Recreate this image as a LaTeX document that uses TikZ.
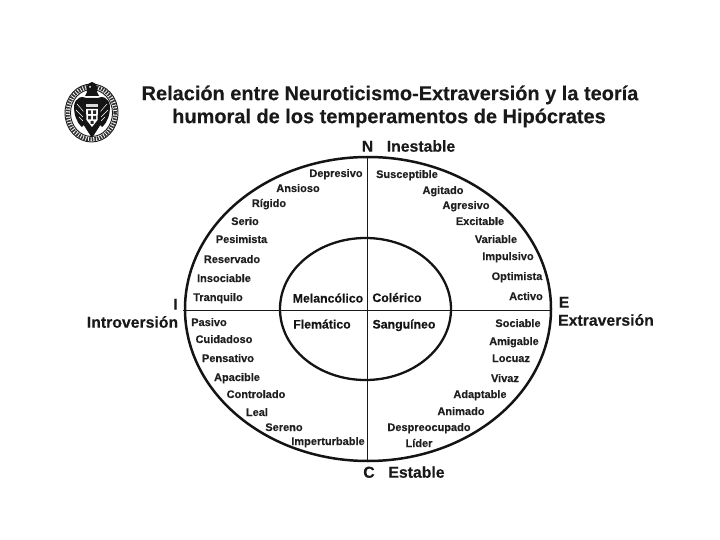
\documentclass[tikz,border=0pt]{standalone}
\usepackage{fontspec}
\setmainfont[BoldFeatures={FakeBold=0.25}]{Liberation Sans}
\tikzset{
  lab/.style={font=\fontsize{11}{13}\selectfont\bfseries,inner sep=0pt,text height=8pt,text depth=0pt,text=black!88},
  mid/.style={font=\fontsize{12.3}{14}\selectfont\bfseries,inner sep=0pt,text height=9pt,text depth=0pt,text=black!92},
  head/.style={font=\fontsize{15.8}{18}\selectfont\bfseries,inner sep=0pt,text height=11.4pt,text depth=0pt,text=black!90},
  ttl/.style={font=\fontsize{19.95}{22}\selectfont\bfseries,inner sep=0pt,text height=14.3pt,text depth=0pt,text=black!90},
  ring/.style={draw=black!92,line width=2.5pt,fill=none},
  inner ring/.style={draw=black!92,line width=2.3pt,fill=none},
  axis/.style={draw=black!90,line width=1.9pt}
}
\begin{document}
\begin{tikzpicture}[x=1pt,y=-1pt]
\useasboundingbox (0,0) rectangle (720,540);
% crest
\begin{scope}
\draw[line width=.9pt,black!90] (91.5,113) ellipse [x radius=26.5,y radius=29];
\draw[line width=4pt,black!80,dash pattern=on 1.6pt off 1.1pt] (91.5,113) ellipse [x radius=24,y radius=26.5];
\draw[line width=.9pt,black!90] (91.5,113) ellipse [x radius=21,y radius=23.5];
% wings
\fill[black!92] (89,100) .. controls (82,94) and (75,98) .. (74,106) .. controls (74,114) and (76,122) .. (82,127) -- (87,122) -- cycle;
\fill[black!92] (95,100) .. controls (102,94) and (109,98) .. (110,106) .. controls (110,114) and (108,122) .. (102,127) -- (97,122) -- cycle;
\draw[white,line width=.5pt] (77,104) -- (84,112) (76,110) -- (83,117) (79,117) -- (84,122);
\draw[white,line width=.5pt] (107,104) -- (100,112) (108,110) -- (101,117) (105,117) -- (100,122);
% head and crown
\fill[black!92] (92,82) .. controls (87,83) and (86,88) .. (87,92) -- (85,96) -- (99,96) -- (97,92) .. controls (98,88) and (97,83) .. (92,82) -- cycle;
\fill[white] (90,87) circle (1);
% body, shield
\fill[black!92] (84,98) -- (100,98) -- (101,124) -- (92,138) -- (83,124) -- cycle;
\fill[white!85!black] (86,104) rectangle (98,107);
\fill[white] (86,109) -- (98,109) -- (97.5,120) -- (92,127) -- (86.5,120) -- cycle;
\fill[black!85] (88,110.5) rectangle (91,114) (93,110.5) rectangle (96,114) (88,116) rectangle (91,119.5) (93,116) rectangle (96,119.5) (90.5,121) rectangle (93.5,124);
\end{scope}
% title
\node[ttl] (t1) at (390,93) {Relación entre Neuroticismo-Extraversión y la teoría};
\node[ttl] (t2) at (389,116) {humoral de los temperamentos de Hipócrates};
% rings and axes
\path[ring] (368,309) ellipse [x radius=183,y radius=152];
\path[inner ring] (365.5,309) ellipse [x radius=85.5,y radius=71];
\coordinate (L) at (183,310.5);
\coordinate (R) at (552,310.5);
\coordinate (T) at (367.5,157);
\coordinate (B) at (367.5,461);
\path[axis] (L) -- (R);
\path[axis] (T) -- (B);
% poles
\node[head] (n) at (367.5,146) {N};
\node[head] (ne) at (421,146) {Inestable};
\node[head] (c) at (369,472) {C};
\node[head] (ce) at (416.5,472) {Estable};
\node[head] (i) at (175.5,304) {I};
\node[head] (ie) at (132.5,322) {Introversión};
\node[head] (e) at (564,302) {E};
\node[head] (ee) at (606,320) {Extraversión};
% temperaments
\node[mid] (m1) at (328,298) {Melancólico};
\node[mid] (m2) at (397,297.5) {Colérico};
\node[mid] (m3) at (322,324) {Flemático};
\node[mid] (m4) at (404,324) {Sanguíneo};
% upper left
\node[lab] (a1) at (336,173) {Depresivo};
\node[lab] (a2) at (298,188) {Ansioso};
\node[lab] (a3) at (269,203) {Rígido};
\node[lab] (a4) at (245,221) {Serio};
\node[lab] (a5) at (241.5,239) {Pesimista};
\node[lab] (a6) at (232,259) {Reservado};
\node[lab] (a7) at (224,278) {Insociable};
\node[lab] (a8) at (218,297) {Tranquilo};
% lower left
\node[lab] (b1) at (209,322) {Pasivo};
\node[lab] (b2) at (224,339) {Cuidadoso};
\node[lab] (b3) at (228,358) {Pensativo};
\node[lab] (b4) at (237,377) {Apacible};
\node[lab] (b5) at (256,394) {Controlado};
\node[lab] (b6) at (257,412) {Leal};
\node[lab] (b7) at (284,427) {Sereno};
\node[lab] (b8) at (328,441) {Imperturbable};
% upper right
\node[lab] (c1) at (407,174) {Susceptible};
\node[lab] (c2) at (443,190) {Agitado};
\node[lab] (c3) at (466,205) {Agresivo};
\node[lab] (c4) at (480,221) {Excitable};
\node[lab] (c5) at (496,239) {Variable};
\node[lab] (c6) at (508,256) {Impulsivo};
\node[lab] (c7) at (517,276) {Optimista};
\node[lab] (c8) at (526,296) {Activo};
% lower right
\node[lab] (d1) at (518,323) {Sociable};
\node[lab] (d2) at (514,341) {Amigable};
\node[lab] (d3) at (511,358) {Locuaz};
\node[lab] (d4) at (505,378) {Vivaz};
\node[lab] (d5) at (480,394) {Adaptable};
\node[lab] (d6) at (461,411) {Animado};
\node[lab] (d7) at (429,427) {Despreocupado};
\node[lab] (d8) at (419,443) {Líder};
\end{tikzpicture}
\end{document}
